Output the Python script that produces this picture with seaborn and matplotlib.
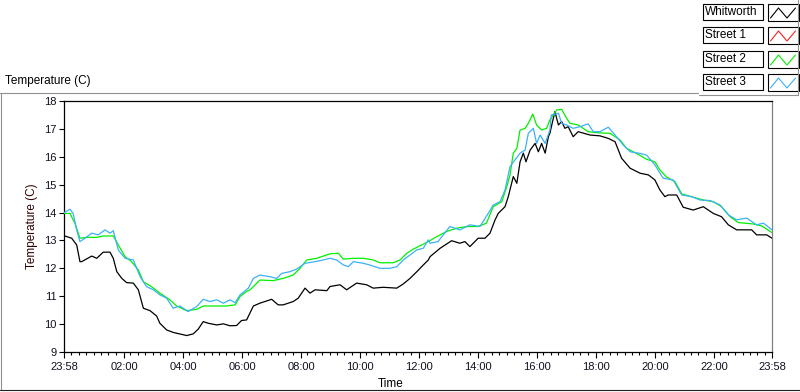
import numpy as np
import pandas as pd
import matplotlib
matplotlib.use("Agg")
import matplotlib.pyplot as plt
from matplotlib.lines import Line2D
from matplotlib.patches import Rectangle
import seaborn as sns

# ---------------- data (hours since 23:58) ----------------
series_names = ["Whitworth", "Street 1", "Street 2", "Street 3"]

whitworth_t = [0.00, 0.26, 0.43, 0.54, 0.60, 0.94, 1.11, 1.33, 1.56, 1.67, 1.79, 1.96, 2.12, 2.35, 2.52,
               2.69, 2.92, 3.14, 3.25, 3.48, 3.71, 4.16, 4.38, 4.55, 4.72, 4.89, 5.18, 5.40, 5.63, 5.85,
               6.02, 6.19, 6.42, 6.64, 7.04, 7.26, 7.43, 7.77, 7.94, 8.17, 8.34, 8.51, 8.91, 9.02, 9.36,
               9.58, 9.92, 10.26, 10.48, 10.82, 11.28, 11.50, 11.73, 11.96, 12.18, 12.35, 12.41, 12.75,
               13.14, 13.42, 13.59, 13.76, 14.04, 14.27, 14.44, 14.61, 14.72, 14.95, 15.06, 15.23, 15.35,
               15.46, 15.57, 15.66, 15.80, 15.97, 16.08, 16.19, 16.31, 16.42, 16.47, 16.64, 16.76, 16.87,
               16.98, 17.09, 17.26, 17.43, 17.83, 18.17, 18.45, 18.68, 18.90, 19.19, 19.53, 19.81, 20.03,
               20.20, 20.37, 20.48, 20.77, 20.99, 21.33, 21.67, 22.01, 22.29, 22.52, 22.80, 23.31, 23.48,
               23.82, 24.00]
whitworth_v = [13.17, 13.08, 12.84, 12.24, 12.24, 12.44, 12.36, 12.58, 12.58, 12.36, 11.88, 11.64, 11.49,
               11.47, 11.23, 10.57, 10.48, 10.29, 10.03, 9.79, 9.70, 9.59, 9.65, 9.82, 10.09, 10.03, 9.97,
               10.01, 9.94, 9.95, 10.13, 10.15, 10.65, 10.75, 10.89, 10.69, 10.69, 10.81, 10.93, 11.29,
               11.11, 11.23, 11.20, 11.35, 11.41, 11.23, 11.47, 11.41, 11.29, 11.32, 11.29, 11.44, 11.64,
               11.88, 12.12, 12.30, 12.42, 12.72, 12.99, 12.90, 12.96, 12.78, 13.08, 13.08, 13.26, 13.73,
               13.97, 14.21, 14.57, 15.29, 15.05, 15.82, 16.13, 15.82, 16.24, 16.48, 16.18, 16.48, 16.13,
               16.72, 16.84, 17.62, 17.14, 17.26, 17.02, 17.08, 16.72, 16.90, 16.78, 16.75, 16.66, 16.54,
               15.95, 15.59, 15.41, 15.35, 15.17, 14.81, 14.57, 14.63, 14.63, 14.19, 14.09, 14.21, 13.97,
               13.85, 13.56, 13.38, 13.38, 13.20, 13.20, 13.08]

street1_t = []   # no visible red trace in the reference
street1_v = []

street2_t = [0.00, 0.20, 0.37, 0.54, 0.77, 1.11, 1.33, 1.67, 1.84, 2.07, 2.29, 2.52, 2.69, 2.97, 3.25,
             3.59, 3.82, 4.16, 4.50, 4.72, 5.18, 5.52, 5.80, 5.97, 6.19, 6.31, 6.64, 7.09, 7.43, 7.77,
             8.00, 8.23, 8.57, 8.79, 9.02, 9.30, 9.47, 9.81, 10.15, 10.48, 10.71, 11.16, 11.39, 11.62,
             11.84, 12.13, 12.35, 12.64, 12.97, 13.31, 13.65, 14.04, 14.32, 14.55, 14.84, 15.01, 15.12,
             15.23, 15.35, 15.46, 15.63, 15.74, 15.89, 16.02, 16.19, 16.36, 16.47, 16.70, 16.87, 17.04,
             17.15, 17.43, 17.77, 18.11, 18.51, 18.68, 18.85, 19.07, 19.41, 19.75, 20.03, 20.20, 20.43,
             20.71, 20.94, 21.33, 21.67, 22.01, 22.29, 22.58, 22.86, 23.37, 23.65, 24.00]
street2_v = [13.97, 13.97, 13.62, 13.08, 13.11, 13.11, 13.16, 13.16, 12.84, 12.42, 12.24, 11.94, 11.52,
             11.34, 11.11, 10.87, 10.65, 10.48, 10.53, 10.65, 10.65, 10.65, 10.69, 10.99, 11.17, 11.23,
             11.58, 11.56, 11.64, 11.76, 12.00, 12.30, 12.36, 12.44, 12.52, 12.54, 12.33, 12.36, 12.36,
             12.30, 12.20, 12.20, 12.30, 12.54, 12.69, 12.84, 12.96, 13.14, 13.32, 13.44, 13.50, 13.50,
             13.62, 14.21, 14.39, 14.93, 15.35, 16.13, 16.30, 16.96, 17.02, 17.20, 17.53, 17.14, 16.96,
             17.02, 17.32, 17.68, 17.70, 17.38, 17.20, 17.14, 16.90, 16.86, 16.84, 16.72, 16.60, 16.30,
             16.12, 15.91, 15.82, 15.53, 15.27, 15.11, 14.67, 14.55, 14.45, 14.39, 14.21, 13.85, 13.64,
             13.59, 13.52, 13.28]

street3_t = [0.00, 0.20, 0.31, 0.43, 0.54, 0.71, 0.94, 1.16, 1.39, 1.56, 1.67, 1.84, 2.07, 2.35, 2.58,
             2.80, 3.03, 3.25, 3.48, 3.70, 3.93, 4.21, 4.50, 4.72, 4.94, 5.18, 5.40, 5.63, 5.80, 5.97,
             6.25, 6.42, 6.64, 6.98, 7.21, 7.38, 7.66, 7.88, 8.17, 8.51, 8.79, 9.02, 9.24, 9.47, 9.64,
             9.81, 10.15, 10.37, 10.71, 11.05, 11.28, 11.50, 11.73, 11.96, 12.18, 12.35, 12.41, 12.68,
             13.08, 13.42, 13.76, 14.10, 14.38, 14.55, 14.78, 14.95, 15.12, 15.29, 15.46, 15.63, 15.74,
             15.91, 16.02, 16.14, 16.31, 16.47, 16.52, 16.76, 16.87, 17.04, 17.26, 17.49, 17.77, 17.94,
             18.17, 18.45, 18.68, 18.96, 19.19, 19.53, 19.75, 20.03, 20.31, 20.65, 20.94, 21.28, 21.56,
             21.90, 22.24, 22.52, 22.80, 23.14, 23.48, 23.71, 24.00]
street3_v = [13.99, 14.12, 13.97, 13.38, 12.96, 13.08, 13.26, 13.20, 13.38, 13.26, 13.35, 12.66, 12.36,
             12.30, 11.70, 11.34, 11.23, 11.05, 10.93, 10.57, 10.65, 10.45, 10.63, 10.89, 10.81, 10.87,
             10.75, 10.87, 10.77, 11.05, 11.29, 11.64, 11.76, 11.70, 11.64, 11.82, 11.88, 11.97, 12.18,
             12.24, 12.30, 12.36, 12.30, 12.12, 12.06, 12.24, 12.18, 12.12, 12.00, 12.00, 12.06, 12.30,
             12.48, 12.66, 12.72, 13.02, 12.90, 12.96, 13.50, 13.38, 13.56, 13.50, 13.97, 14.27, 14.39,
             14.81, 15.65, 15.89, 16.13, 16.24, 16.84, 17.02, 16.48, 16.78, 16.48, 16.96, 17.50, 17.56,
             17.20, 17.14, 17.02, 17.08, 17.18, 16.90, 16.90, 17.06, 16.78, 16.42, 16.18, 16.12, 16.06,
             15.71, 15.23, 15.17, 14.63, 14.57, 14.45, 14.43, 14.27, 13.92, 13.74, 13.80, 13.56, 13.62,
             13.38]

x_tick_pos = [0, 2.0333, 4.0333, 6.0333, 8.0333, 10.0333, 12.0333, 14.0333, 16.0333, 18.0333,
              20.0333, 22.0333, 24]
x_tick_labels = ["23:58", "02:00", "04:00", "06:00", "08:00", "10:00", "12:00", "14:00", "16:00",
                 "18:00", "20:00", "22:00", "23:58"]
y_ticks = [9, 10, 11, 12, 13, 14, 15, 16, 17, 18]

colors = {"Whitworth": "#000000", "Street 1": "#ff2020", "Street 2": "#00f000", "Street 3": "#3cb0f8"}

# ---------------- style ----------------
sns.set_theme(style="white")
plt.rcParams["font.family"] = ["Liberation Sans", "DejaVu Sans"]
plt.rcParams["axes.linewidth"] = 0.8

W, H = 800, 392
fig = plt.figure(figsize=(W / 100, H / 100), dpi=100)
fig.patch.set_facecolor("white")

def fx(x):
    return x / W

def fy(y):
    return 1 - y / H

ax = fig.add_axes([fx(64), fy(352), fx(772) - fx(64), fy(101) - fy(352)])
ax.set_facecolor("white")

data = {
    "Whitworth": (whitworth_t, whitworth_v),
    "Street 1": (street1_t, street1_v),
    "Street 2": (street2_t, street2_v),
    "Street 3": (street3_t, street3_v),
}
for z, name in enumerate(series_names):
    t, v = data[name]
    if len(t) == 0:
        continue
    df = pd.DataFrame({"t": t, "v": v})
    sns.lineplot(data=df, x="t", y="v", ax=ax, color=colors[name], linewidth=0.9,
                 estimator=None, sort=False, zorder=2 + z)

ax.set_xlim(0, 24)
ax.set_ylim(9, 18)
ax.set_xlabel("")
ax.set_ylabel("")

ax.set_xticks(x_tick_pos)
ax.set_xticklabels(x_tick_labels)
minor = [m for m in np.arange(0.25, 24, 0.25) if min(abs(m - p) for p in x_tick_pos) > 0.1]
ax.set_xticks(minor, minor=True)
ax.set_yticks(y_ticks)
ax.set_yticklabels([str(v) for v in y_ticks])

ax.tick_params(axis="x", which="major", direction="out", length=4.5, width=0.8, color="black",
               labelsize=8, pad=2.5, bottom=True)
ax.tick_params(axis="x", which="minor", direction="out", length=2.5, width=0.8, color="black",
               bottom=True)
ax.tick_params(axis="y", which="major", direction="out", length=3.5, width=0.8, color="black",
               labelsize=8, pad=2, left=True)
for lab in ax.get_xticklabels() + ax.get_yticklabels():
    lab.set_color("#101020")

for side in ["left", "top", "bottom"]:
    ax.spines[side].set_color("black")
    ax.spines[side].set_linewidth(0.9)
ax.spines["right"].set_color("#808080")
ax.spines["right"].set_linewidth(0.9)

# texts
fig.text(fx(5), fy(81), "Temperature (C)", ha="left", va="center", fontsize=8.5, color="black")
fig.text(fx(32), fy(226), "Temperature (C)", ha="center", va="center", rotation=90,
         fontsize=8.5, color="#300000")
fig.text(fx(391), fy(384), "Time", ha="center", va="center", fontsize=8.5, color="black")

# panel frame lines
def fline(x0, y0, x1, y1, color, lw=0.8):
    fig.add_artist(Line2D([fx(x0), fx(x1)], [fy(y0), fy(y1)], color=color, linewidth=lw,
                          transform=fig.transFigure))

fline(0, 92.5, 698, 92.5, "#909090")
fline(1, 92.5, 1, 389.5, "#909090")
fline(0, 389.5, 800, 389.5, "#202020")
fline(699, 94.5, 797.5, 94.5, "#909090")
fline(797.5, 0, 797.5, 94.5, "#909090")

# legend (LabVIEW-style plot legend)
tops = [4, 27, 51, 74]
for name, top in zip(series_names, tops):
    fig.add_artist(Rectangle((fx(703), fy(top + 15.5)), fx(763) - fx(703), fy(top) - fy(top + 15.5),
                             facecolor="white", edgecolor="black", linewidth=0.8,
                             transform=fig.transFigure))
    fig.text(fx(705), fy(top + 8), name, ha="left", va="center", fontsize=8.5, color="black")
    fig.add_artist(Rectangle((fx(767.5), fy(top + 17)), fx(798.5) - fx(767.5), fy(top) - fy(top + 17),
                             facecolor="white", edgecolor="black", linewidth=0.8,
                             transform=fig.transFigure))
    zx = [770.5, 778.5, 787, 795.5]
    zy = [top + 14, top + 4, top + 14, top + 4]
    fig.add_artist(Line2D([fx(a) for a in zx], [fy(b) for b in zy], color=colors[name],
                          linewidth=0.8, transform=fig.transFigure))

fig.savefig("out.png", dpi=100)
